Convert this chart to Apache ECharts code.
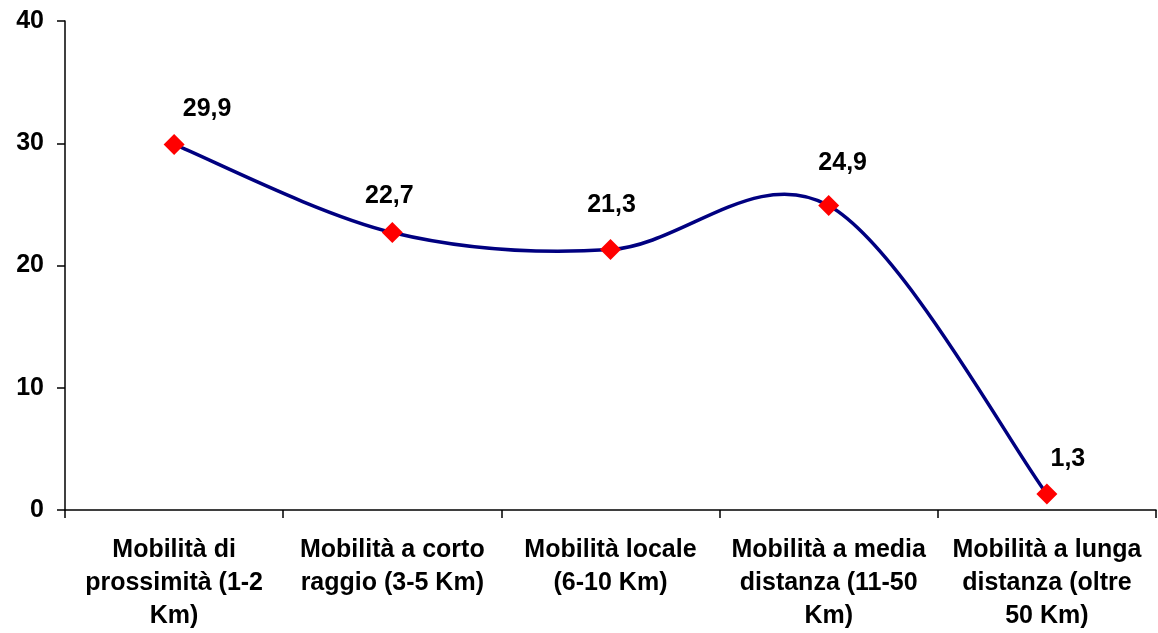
<!DOCTYPE html>
<html>
<head>
<meta charset="utf-8">
<script src="https://cdn.jsdelivr.net/npm/echarts@6/dist/echarts.min.js"></script>
<style>
html,body{margin:0;padding:0;background:#fff;}
#chart{width:1158px;height:633px;}
</style>
</head>
<body>
<div id="chart"></div>
<script>
const categories = [
  "Mobilità di\nprossimità (1-2\nKm)",
  "Mobilità a corto\nraggio (3-5 Km)",
  "Mobilità locale\n(6-10 Km)",
  "Mobilità a media\ndistanza (11-50\nKm)",
  "Mobilità a lunga\ndistanza (oltre\n50 Km)"
];
const values = [29.9, 22.7, 21.3, 24.9, 1.3];
const yTicks = [0, 10, 20, 30, 40];

// label placement offsets (style only)
const labelOffsets = [[33, -35], [-3, -36], [1, -44], [14, -42], [21, -35]];

const chart = echarts.init(document.getElementById('chart'));
const font = 'Arial, "Liberation Sans", sans-serif';

// Excel-like smoothed line (Catmull-Rom, tension 1/6) built from axis-scaled points
function renderSmooth(params, api) {
  if (params.dataIndex !== 0) return null;
  const pts = values.map((v, i) => api.coord([i, v]));
  const n = pts.length;
  const children = [];
  for (let i = 0; i < n - 1; i++) {
    const p0 = pts[Math.max(i - 1, 0)], p1 = pts[i], p2 = pts[i + 1], p3 = pts[Math.min(i + 2, n - 1)];
    const c1 = [p1[0] + (p2[0] - p0[0]) / 6, p1[1] + (p2[1] - p0[1]) / 6];
    const c2 = [p2[0] - (p3[0] - p1[0]) / 6, p2[1] - (p3[1] - p1[1]) / 6];
    children.push({
      type: 'bezierCurve',
      shape: {x1: p1[0], y1: p1[1], cpx1: c1[0], cpy1: c1[1], cpx2: c2[0], cpy2: c2[1], x2: p2[0], y2: p2[1]},
      style: {stroke: '#000080', lineWidth: 3.5, fill: null, lineCap: 'round'}
    });
  }
  return {type: 'group', children};
}

chart.setOption({
  animation: false,
  backgroundColor: '#ffffff',
  grid: {left: 65, right: 2, top: 21, bottom: 123, containLabel: false},
  xAxis: {
    type: 'category',
    data: categories,
    boundaryGap: true,
    axisLine: {lineStyle: {color: '#000', width: 1.5}},
    axisTick: {show: true, alignWithLabel: false, length: 8, lineStyle: {color: '#000', width: 1.5}},
    axisLabel: {
      interval: 0, color: '#000', fontFamily: font, fontWeight: 'bold',
      fontSize: 25, lineHeight: 33, margin: 24, align: 'center'
    },
    splitLine: {show: false}
  },
  yAxis: {
    type: 'value',
    min: yTicks[0], max: yTicks[yTicks.length - 1], interval: 10,
    axisLine: {show: true, lineStyle: {color: '#000', width: 1.5}},
    axisTick: {show: true, length: 8, lineStyle: {color: '#000', width: 1.5}},
    axisLabel: {color: '#000', fontFamily: font, fontWeight: 'bold', fontSize: 25, margin: 21},
    splitLine: {show: false}
  },
  series: [{
    type: 'custom',
    data: values.map((v, i) => [i, v]),
    renderItem: renderSmooth,
    clip: false,
    silent: true,
    z: 2
  }, {
    type: 'line',
    data: values.map((v, i) => ({
      value: v,
      label: {offset: labelOffsets[i]}
    })),
    lineStyle: {width: 0, opacity: 0},
    symbol: 'diamond',
    symbolSize: 21,
    itemStyle: {color: '#ff0000', borderWidth: 0},
    label: {
      show: true, position: 'inside',
      formatter: p => String(p.value).replace('.', ','),
      color: '#000', fontFamily: font, fontWeight: 'bold', fontSize: 25
    },
    z: 3
  }]
});
</script>
</body>
</html>
